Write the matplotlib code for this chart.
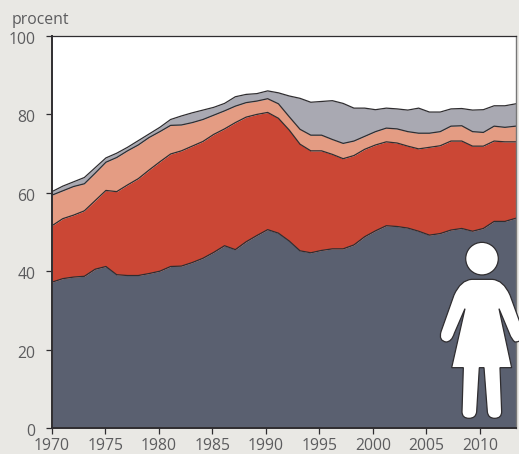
import numpy as np
from matplotlib import pyplot as plt
from matplotlib.path import Path
from matplotlib.patches import PathPatch, Circle
from matplotlib.transforms import ScaledTranslation

# cumulative levels, procent
years = list(range(1970, 2014))
dark_top = [37.2, 38.1, 38.5, 38.7, 40.5, 41.2, 39.1, 38.9, 38.9, 39.4, 40.0, 41.2, 41.3, 42.2, 43.3,
            44.8, 46.5, 45.5, 47.5, 49.1, 50.6, 49.7, 47.7, 45.2, 44.7, 45.3, 45.7, 45.7, 46.7, 48.8,
            50.3, 51.6, 51.4, 51.0, 50.2, 49.2, 49.6, 50.5, 50.9, 50.2, 50.9, 52.7, 52.7, 53.5]
red_top = [51.6, 53.4, 54.3, 55.4, 58.0, 60.6, 60.3, 62.0, 63.6, 65.8, 67.9, 69.9, 70.7, 71.9, 73.1,
           74.9, 76.3, 77.9, 79.3, 80.0, 80.5, 79.0, 76.0, 72.4, 70.7, 70.7, 69.8, 68.7, 69.5, 71.1,
           72.2, 73.0, 72.7, 71.9, 71.2, 71.6, 72.0, 73.2, 73.2, 71.9, 71.9, 73.2, 73.0, 73.0]
salmon_top = [59.4, 60.5, 61.6, 62.3, 65.0, 67.8, 69.0, 70.7, 72.2, 74.1, 75.6, 77.2, 77.3, 77.9, 78.7,
              79.8, 80.9, 82.1, 83.0, 83.4, 84.0, 82.7, 79.4, 76.2, 74.7, 74.7, 73.6, 72.6, 73.2, 74.4,
              75.6, 76.5, 76.3, 75.6, 75.2, 75.2, 75.6, 77.0, 77.1, 75.6, 75.4, 77.0, 76.7, 77.0]
grey_top = [60.3, 61.7, 62.8, 63.9, 66.4, 68.9, 70.1, 71.6, 73.3, 75.0, 76.7, 78.7, 79.6, 80.4, 81.1,
            81.8, 82.8, 84.5, 85.1, 85.3, 86.0, 85.5, 84.7, 84.1, 83.1, 83.3, 83.5, 82.8, 81.6, 81.6,
            81.2, 81.6, 81.4, 81.1, 81.6, 80.6, 80.6, 81.4, 81.5, 81.1, 81.2, 82.2, 82.2, 82.7]
x_labels = [1970, 1975, 1980, 1985, 1990, 1995, 2000, 2005, 2010]
y_labels = [0, 20, 40, 60, 80, 100]

BG = '#e9e8e4'
TXT = '#5c5c5e'
LINE = '#2f2d30'
W, H = 519, 454
plt.rcParams['font.family'] = ['Open Sans', 'DejaVu Sans']

fig = plt.figure(figsize=(W / 100, H / 100), dpi=100, facecolor=BG)
ax = fig.add_axes([52 / W, (H - 428) / H, 463.7 / W, 392 / H])

ax.fill_between(years, 0, dark_top, color='#5a6070', lw=0)
ax.fill_between(years, dark_top, red_top, color='#cb4735', lw=0)
ax.fill_between(years, red_top, salmon_top, color='#e49c83', lw=0)
ax.fill_between(years, salmon_top, grey_top, color='#a9a9b2', lw=0)
for top in [dark_top, red_top, salmon_top, grey_top]:
    ax.plot(years, top, color=LINE, lw=0.9)

ax.set_xlim(1970, 2013)
ax.set_ylim(0, 100)
# ticks in the original sit a little tighter than the data points
ax.set_xticks([1970 + (t - 1970) * 0.992 for t in x_labels])
ax.set_xticklabels(x_labels)
ax.set_yticks(y_labels)
ax.tick_params(axis='both', length=4.5, width=0.9, color=LINE, labelcolor=TXT, labelsize=11.3)
ax.tick_params(axis='x', pad=2.5)
ax.tick_params(axis='y', pad=7.5)
# y labels hang slightly below their ticks
shift = ScaledTranslation(0, -1.5 / 72, fig.dpi_scale_trans)
for lab in ax.get_yticklabels():
    lab.set_transform(lab.get_transform() + shift)
for name in ['left', 'bottom']:
    ax.spines[name].set_linewidth(1.4)
    ax.spines[name].set_color(LINE)
ax.spines['top'].set_linewidth(0.9)
ax.spines['top'].set_color(LINE)
ax.spines['right'].set_linewidth(1.0)
ax.spines['right'].set_color('#777777')

fig.text(12 / W, (H - 24) / H, 'procent', color=TXT, fontsize=11.3, ha='left', va='baseline')

# woman icon, drawn in pixel space on top of the chart
icon = fig.add_axes([0, 0, 1, 1], facecolor='none')
icon.set_xlim(0, W)
icon.set_ylim(H, 0)
icon.axis('off')

def pt(zx, zy):
    return (400 + zx / 3, 220 + zy / 3)

M, L, C, Z = Path.MOVETO, Path.LINETO, Path.CURVE3, Path.CLOSEPOLY
body = [
    (M, 215, 178), (L, 277, 178), (C, 310, 180), (C, 330, 225), (L, 370, 335),
    (C, 378, 365), (C, 345, 366), (C, 335, 360), (C, 328, 340), (L, 297, 266),
    (L, 335, 443), (L, 300, 443), (L, 305, 575), (C, 305, 595), (C, 284, 595),
    (C, 264, 595), (C, 262, 575), (L, 252, 443), (L, 238, 443), (L, 230, 575),
    (C, 228, 595), (C, 207, 595), (C, 186, 595), (C, 186, 575), (L, 190, 443),
    (L, 155, 443), (L, 195, 266), (L, 163, 340), (C, 155, 366), (C, 138, 366),
    (C, 115, 362), (C, 123, 335), (L, 162, 225), (C, 182, 180), (C, 215, 178),
    (Z, 215, 178),
]
codes = [b[0] for b in body]
verts = [pt(b[1], b[2]) for b in body]
icon.add_patch(PathPatch(Path(verts, codes), fc='white', ec=LINE, lw=0.9, clip_on=False))
icon.add_patch(Circle(pt(246, 116), 16.3, fc='white', ec=LINE, lw=0.9))

fig.savefig('out.png', dpi=100, facecolor=BG)
